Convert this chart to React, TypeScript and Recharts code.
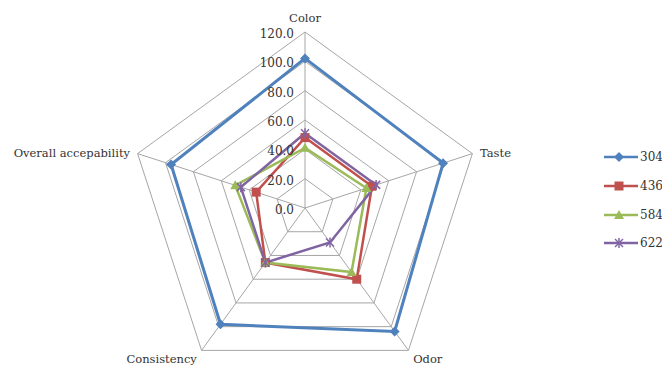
import { RadarChart, Radar, PolarGrid, PolarAngleAxis, PolarRadiusAxis, Legend } from 'recharts';

const attributes = ['Color', 'Taste', 'Odor', 'Consistency', 'Overall accepability'];
const s304 = [102, 99, 104, 98, 96];
const s436 = [48, 48, 60, 46, 35];
const s584 = [41, 44, 54, 46, 50];
const s622 = [51, 51, 29, 46, 46];
const radiusTicks = [0, 20, 40, 60, 80, 100, 120];

const series = [
  { key: 's304', name: '304', color: '#4f81bd', shape: 'diamond', width: 3 },
  { key: 's436', name: '436', color: '#c0504d', shape: 'square', width: 2.5 },
  { key: 's584', name: '584', color: '#9bbb59', shape: 'triangle', width: 2.5 },
  { key: 's622', name: '622', color: '#8064a2', shape: 'star', width: 2.5 },
];

const data = attributes.map((a, i) => ({
  attr: a,
  s304: s304[i],
  s436: s436[i],
  s584: s584[i],
  s622: s622[i],
}));

const FONT = '"DejaVu Serif", serif';
const CX = 305;
const CY = 208;

function Marker({ x, y, shape, color }: { x: number; y: number; shape: string; color: string }) {
  if (shape === 'diamond') {
    return <polygon points={`${x},${y - 5} ${x + 5},${y} ${x},${y + 5} ${x - 5},${y}`} fill={color} />;
  }
  if (shape === 'square') {
    return <rect x={x - 4.5} y={y - 4.5} width={9} height={9} fill={color} />;
  }
  if (shape === 'triangle') {
    return <polygon points={`${x},${y - 5} ${x + 5},${y + 4} ${x - 5},${y + 4}`} fill={color} />;
  }
  return (
    <g stroke={color} strokeWidth={1.5}>
      <line x1={x - 4} y1={y - 4} x2={x + 4} y2={y + 4} />
      <line x1={x - 4} y1={y + 4} x2={x + 4} y2={y - 4} />
      <line x1={x} y1={y - 5} x2={x} y2={y + 5} />
    </g>
  );
}

const AngleTick = (props: any) => {
  const { x, y, payload, textAnchor } = props;
  const top = y < CY - 150;
  return (
    <text x={x} y={y} dy={top ? -2 : 6} textAnchor={textAnchor} fontFamily={FONT} fontSize={11.5} fill="#333">
      {payload.value}
    </text>
  );
};

const RadiusTick = (props: any) => {
  const { x, y, payload } = props;
  return (
    <text x={x - 11} y={y} dy={6} textAnchor="end" fontFamily={FONT} fontSize={12} fill="#333">
      {Number(payload.value).toFixed(1)}
    </text>
  );
};

const renderLegend = () => (
  <div>
    {series.map((s) => (
      <div key={s.key} style={{ display: 'flex', alignItems: 'center', height: 28.7 }}>
        <svg width={38} height={12}>
          <line x1={2} y1={6} x2={36} y2={6} stroke={s.color} strokeWidth={2.5} />
          <Marker x={17} y={6} shape={s.shape} color={s.color} />
        </svg>
        <span style={{ fontFamily: FONT, fontSize: 12, color: '#333' }}>{s.name}</span>
      </div>
    ))}
  </div>
);

export default function App() {
  return (
    <div style={{ position: 'absolute', left: 0, top: 0, background: '#fff' }}>
      <RadarChart width={662} height={365} data={data} cx={CX} cy={CY} outerRadius={176} margin={{ top: 0, right: 0, bottom: 0, left: 0 }}>
        <PolarGrid gridType="polygon" stroke="#a6a6a6" strokeWidth={1} />
        <PolarAngleAxis dataKey="attr" tick={AngleTick} tickLine={false} axisLine={false} />
        <PolarRadiusAxis
          angle={90}
          domain={[0, 120]}
          ticks={radiusTicks}
          tickCount={7}
          axisLine={false}
          tickLine={false}
          tick={RadiusTick}
        />
        {series.map((s) => (
          <Radar
            key={s.key}
            name={s.name}
            dataKey={s.key}
            stroke={s.color}
            strokeWidth={s.width}
            fill="none"
            fillOpacity={0}
            isAnimationActive={false}
            dot={(p: any) => <Marker key={`${s.key}-${p.index}`} x={p.cx} y={p.cy} shape={s.shape} color={s.color} />}
          />
        ))}
        <Legend
          layout="vertical"
          align="right"
          verticalAlign="top"
          content={renderLegend}
          wrapperStyle={{ left: 602, top: 143, width: 70 }}
        />
      </RadarChart>
    </div>
  );
}
